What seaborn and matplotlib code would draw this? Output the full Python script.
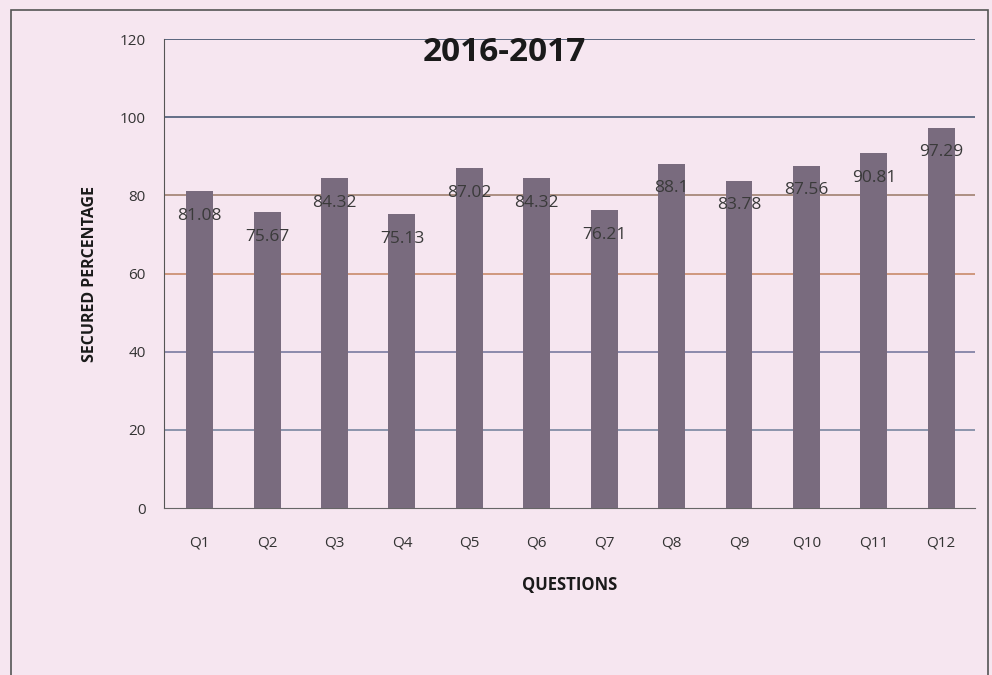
import matplotlib
matplotlib.use('Agg')
import matplotlib.pyplot as plt
import seaborn as sns
import pandas as pd
from matplotlib.patches import Rectangle

questions = ['Q1', 'Q2', 'Q3', 'Q4', 'Q5', 'Q6', 'Q7', 'Q8', 'Q9', 'Q10', 'Q11', 'Q12']
percent = [81.08, 75.67, 84.32, 75.13, 87.02, 84.32, 76.21, 88.1, 83.78, 87.56, 90.81, 97.29]
label_text = ['81.08', '75.67', '84.32', '75.13', '87.02', '84.32', '76.21', '88.1', '83.78', '87.56', '90.81', '97.29']

df = pd.DataFrame({'question': questions, 'percent': percent})

sns.set_style('white')
plt.rcParams['font.family'] = ['Open Sans', 'DejaVu Sans']

bg = '#f6e6f0'
fig = plt.figure(figsize=(9.92, 6.75), dpi=100, facecolor=bg)
ax = fig.add_axes([0.1653, 0.2474, 0.8175, 0.6948])
ax.set_facecolor(bg)

sns.barplot(data=df, x='question', y='percent', color='#796b7e', width=0.40,
            saturation=1, linewidth=0, ax=ax, zorder=3)

# gridlines in the scan look alternately blue and orange
grid_cols = ['#5b6c85', '#7a86a0', '#7a7aa0', '#c98a6a', '#a08070', '#4a5a75', '#3f4f6a']
for yv, c in zip(range(0, 121, 20), grid_cols):
    if yv > 0:
        ax.axhline(yv, color=c, lw=1.2, zorder=1)

for i, (v, t) in enumerate(zip(percent, label_text)):
    ax.text(i, v - 6.3, t, ha='center', va='center', fontsize=12.5, color='#3a3a3a', zorder=4)

ax.set_ylim(0, 120)
ax.set_yticks(range(0, 121, 20))
ax.set_xlim(-0.53, 11.5)
ax.set_xticks([i + 0.5 for i in range(-1, 12)], minor=True)
ax.tick_params(axis='y', labelsize=11, colors='#333333', length=4, pad=9, direction='out')
ax.tick_params(axis='x', which='major', labelsize=11, colors='#333333', length=0, pad=20)
ax.tick_params(axis='x', which='minor', length=4, color='#666666', direction='out')
for s in ['top', 'right']:
    ax.spines[s].set_visible(False)
ax.spines['left'].set_color('#555555')
ax.spines['bottom'].set_color('#666666')

ax.set_xlabel('QUESTIONS', fontsize=12, fontweight='bold', labelpad=18, color='#1a1a1a')
ax.set_ylabel('SECURED PERCENTAGE', fontsize=11.5, fontweight='bold', labelpad=16, color='#1a1a1a')
ax.text(0.42, 0.972, '2016-2017', transform=ax.transAxes, ha='center', va='center',
        fontsize=24, fontweight='bold', color='#1a1a1a')

# outer frame of the chart box
fig.patches.append(Rectangle((0.011, -0.01), 0.985, 0.995, transform=fig.transFigure,
                             fill=False, edgecolor='#555555', lw=1.2))

fig.savefig('out.png', dpi=100, facecolor=bg)
